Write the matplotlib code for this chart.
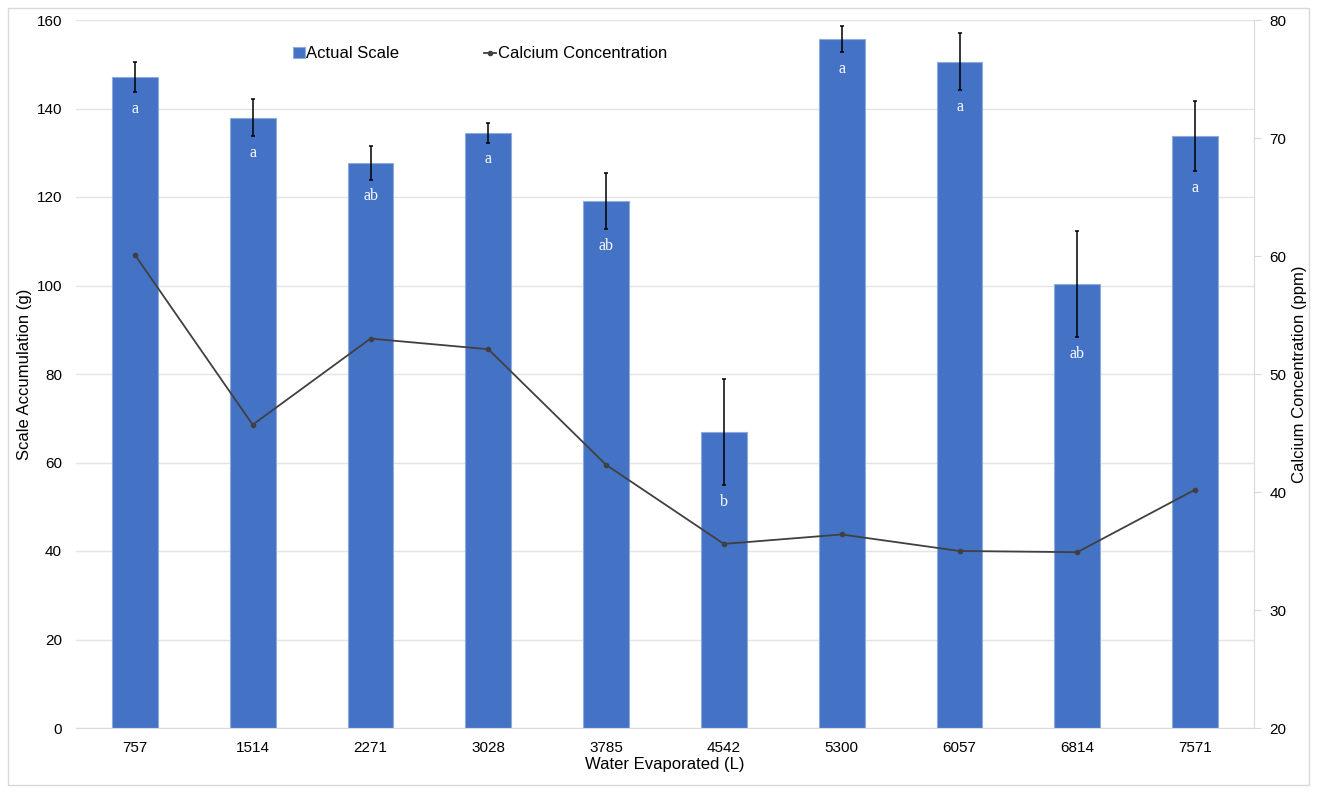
import matplotlib.pyplot as plt
import matplotlib.patches as mpatches
import numpy as np

plt.rcParams['font.family'] = ['Liberation Sans', 'DejaVu Sans']

water = ['757', '1514', '2271', '3028', '3785', '4542', '5300', '6057', '6814', '7571']
scale = [147.1, 137.9, 127.7, 134.5, 119.1, 66.9, 155.7, 150.6, 100.3, 133.8]
scale_err = [3.4, 4.2, 3.8, 2.2, 6.3, 12.0, 3.0, 6.5, 12.0, 8.0]
letters = ['a', 'a', 'ab', 'a', 'ab', 'b', 'a', 'a', 'ab', 'a']
calcium = [60.1, 45.7, 53.0, 52.1, 42.3, 35.6, 36.4, 35.0, 34.9, 40.2]

fig = plt.figure(figsize=(13.17, 7.93), dpi=100)
ax = fig.add_axes([76/1317, 1 - 728/793, 1178/1317, 708/793])
ax2 = ax.twinx()

x = np.arange(len(water))
bars = ax.bar(x, scale, width=0.39, color='#4472C4', edgecolor='#8faadc',
              linewidth=0.8, label='Actual Scale', zorder=2)
ax.errorbar(x, scale, yerr=scale_err, fmt='none', ecolor='black',
            elinewidth=1.1, capsize=1.2, capthick=1.1, zorder=3)

# significance letters under the error bars
for i in range(len(x)):
    ax.annotate(letters[i], (x[i], scale[i] - scale_err[i]), xytext=(0, -12),
                textcoords='offset points', ha='center', va='center',
                color='white', fontsize=11.5, family='Liberation Serif', zorder=4)

ax2.plot(x, calcium, color='#404040', linewidth=1.3, marker='o',
         markersize=3, label='Calcium Concentration')

ax.set_xlim(-0.5, 9.5)
ax.set_ylim(0, 160)
ax.set_yticks(range(0, 161, 20))
ax2.set_ylim(20, 80)
ax2.set_yticks(range(20, 81, 10))
ax.set_xticks(x)
ax.set_xticklabels(water)

ax.grid(axis='y', color='#e4e4e4', linewidth=1, zorder=0)
ax.set_axisbelow(True)

for s in ['top', 'left', 'right']:
    ax.spines[s].set_visible(False)
for s in ['top', 'left', 'bottom']:
    ax2.spines[s].set_visible(False)
ax.spines['bottom'].set_color('#d9d9d9')
ax2.spines['right'].set_color('#d9d9d9')

ax.tick_params(axis='x', length=0, labelsize=11, pad=9)
ax.tick_params(axis='y', length=0, labelsize=11, pad=10)
ax2.tick_params(axis='y', length=5, color='#d9d9d9', labelsize=11, pad=6)

ax.set_xlabel('Water Evaporated (L)', fontsize=12, labelpad=2)
ax.set_ylabel('Scale Accumulation (g)', fontsize=12, labelpad=3)
ax2.set_ylabel('Calcium Concentration (ppm)', fontsize=12, labelpad=4)

h1, l1 = ax.get_legend_handles_labels()
h2, l2 = ax2.get_legend_handles_labels()
ax.legend(h1 + h2, l1 + l2, ncol=2, loc='center', bbox_to_anchor=(0.343, 0.952),
          frameon=False, fontsize=12, handlelength=0.7, handletextpad=0.1,
          columnspacing=5.1)

# chart border
fig.patches.append(mpatches.Rectangle((8/1317, 8/793), 1 - 16/1317, 1 - 16/793,
                                      transform=fig.transFigure, fill=False,
                                      edgecolor='#d9d9d9', linewidth=1))

fig.savefig('out.png', dpi=100)
